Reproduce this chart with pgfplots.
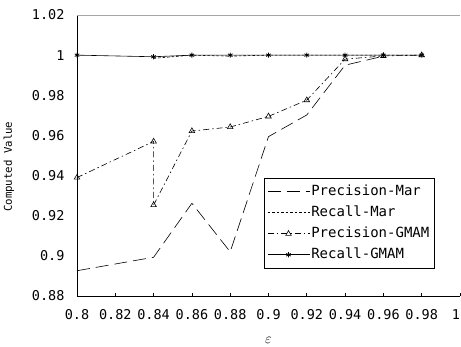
\documentclass[border=0pt]{standalone}
\usepackage{pgfplots}
\pgfplotsset{compat=1.18}
\usepackage{fontspec}
\setmainfont{DejaVu Sans Mono}
\begin{document}
\begin{tikzpicture}[x=1pt,y=1pt]
\useasboundingbox (-77,-50) rectangle (384,296);
\begin{axis}[
  at={(0,0)}, anchor=south west,
  scale only axis, width=383pt, height=281pt,
  xmin=0.8, xmax=1, ymin=0.88, ymax=1.02,
  axis lines*=left,
  axis line style={black, line width=0.7pt},
  xtick={0.8,0.82,...,0.981}, ytick={0.88,0.9,...,1.021},
  xticklabels={0.8,0.82,0.84,0.86,0.88,0.9,0.92,0.94,0.96,0.98},
  extra x ticks={1}, extra x tick labels={1},
  extra x tick style={xticklabel style={xshift=-4pt}},
  yticklabels={0.88,0.9,0.92,0.94,0.96,0.98,1,1.02},
  tick align=inside, major tick length=3pt,
  tick style={black, line width=0.6pt},
  ytick style={draw=none},
  /pgf/number format/assume math mode=true,
  tick label style={font=\fontsize{13.5}{15}\selectfont},
  xticklabel style={yshift=-10pt},
  yticklabel style={xshift=-9pt},
  xlabel={$\varepsilon$},
  ylabel={Computed Value},
  every axis x label/.style={at={(axis description cs:0.5,-0.158)}, anchor=center, inner sep=0pt, font=\Large},
  every axis y label/.style={at={(axis description cs:-0.1775,0.46)}, anchor=center, rotate=90, font=\fontsize{10.7}{12}\selectfont},
  legend style={at={(axis description cs:0.488,0.42)}, anchor=north west, draw=black, line width=0.6pt,
    font=\fontsize{14}{15}\selectfont, row sep=0pt, inner sep=3pt,
    nodes={inner xsep=1.5pt, inner ysep=3.5pt, text height=10.5pt, text depth=3.5pt},
    cells={anchor=west}},
  legend image code/.code={\draw[mark repeat=2,mark phase=2,#1] plot coordinates {(0pt,0pt) (21pt,0pt) (42pt,0pt)};},
  every axis plot/.append style={line width=0.6pt, black},
]
\draw[gray!70, line width=0.7pt] (rel axis cs:0,1) -- (rel axis cs:1,1) -- (rel axis cs:1,0);
\addplot[dash pattern=on 13pt off 6pt] coordinates {
 (0.8,0.8926) (0.84,0.8993) (0.86,0.9262) (0.88,0.902) (0.9,0.9594) (0.92,0.9702) (0.94,0.995) (0.96,0.9995)};
\addlegendentry{Precision-Mar}
\addplot[dash pattern=on 2.5pt off 2pt] coordinates {
 (0.84,0.9984) (0.86,1) (0.88,0.9995) (0.9,1) (0.92,1) (0.94,1) (0.96,1) (0.98,1)};
\addlegendentry{Recall-Mar}
\addplot[dash pattern=on 6pt off 3pt on 1.5pt off 3pt, mark=triangle, mark size=3.2pt, mark options={solid, line width=0.6pt}] coordinates {
 (0.8,0.939) (0.84,0.957) (0.84,0.9253) (0.86,0.9622) (0.88,0.9642) (0.9,0.9695) (0.92,0.9776) (0.94,0.998) (0.96,0.9996) (0.98,1)};
\addlegendentry{Precision-GMAM}
\addplot[solid, mark=asterisk, mark size=2.6pt, mark options={solid, line width=0.8pt}] coordinates {
 (0.8,1) (0.84,0.9992) (0.86,1) (0.88,1) (0.9,1) (0.92,1) (0.94,1) (0.96,1) (0.98,1)};
\addlegendentry{Recall-GMAM}
\end{axis}
\end{tikzpicture}
\end{document}
